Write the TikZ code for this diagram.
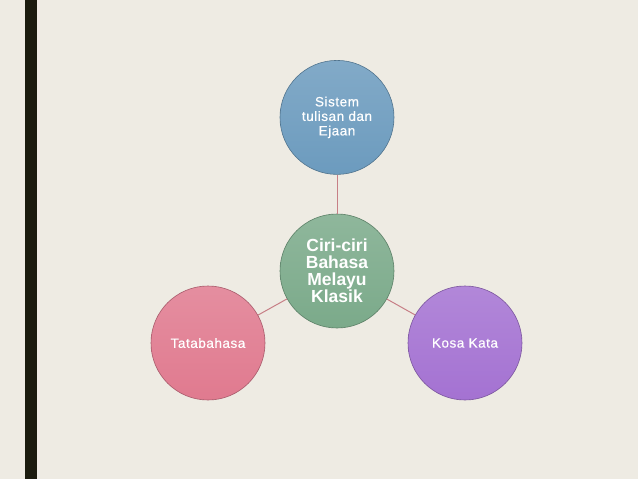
\documentclass[tikz,border=0pt]{standalone}
\usepackage{fontspec}
\setmainfont{Liberation Sans}
\usetikzlibrary{positioning}
\definecolor{pagebg}{HTML}{EEEBE3}
\definecolor{barink}{HTML}{1B1B0E}
\definecolor{linkred}{HTML}{C77F86}
\definecolor{skyblue}{HTML}{6C9BBE}
\definecolor{sagegreen}{HTML}{7BAA8A}
\definecolor{rosepink}{HTML}{E07A8F}
\definecolor{lilac}{HTML}{A472D2}
\tikzset{
  bubble/.style={
    circle,
    minimum size=114pt,
    inner sep=0pt,
    draw=#1!75!black,
    line width=0.6pt,
    top color=#1!85!white,
    bottom color=#1,
    text=white,
    align=center,
    font=\fontsize{13.5}{14.5}\selectfont\addfontfeatures{LetterSpace=4,FakeBold=0.5}
  },
  hub/.style={
    bubble=sagegreen,
    font=\fontsize{17.5}{17}\selectfont\bfseries
  },
  link/.style={draw=linkred,line width=1pt}
}
\begin{document}
\begin{tikzpicture}[x=1pt,y=-1pt]
    \fill[pagebg] (0,0) rectangle (638,479);
    \fill[barink] (25,0) rectangle (37,479);

    \node[hub] (core) at (337,271) {Ciri-ciri\\Bahasa\\Melayu\\Klasik};
    \node[bubble=skyblue,above=39pt of core] (ejaan) {Sistem\\tulisan dan\\Ejaan};
    \node[bubble=rosepink] (tata) at (208,343) {Tatabahasa};
    \node[bubble=lilac] (kosa) at (465,343) {Kosa Kata};

    \draw[link] (core) -- (ejaan);
    \draw[link] (core) -- (tata);
    \draw[link] (core) -- (kosa);
  \end{tikzpicture}
\end{document}
